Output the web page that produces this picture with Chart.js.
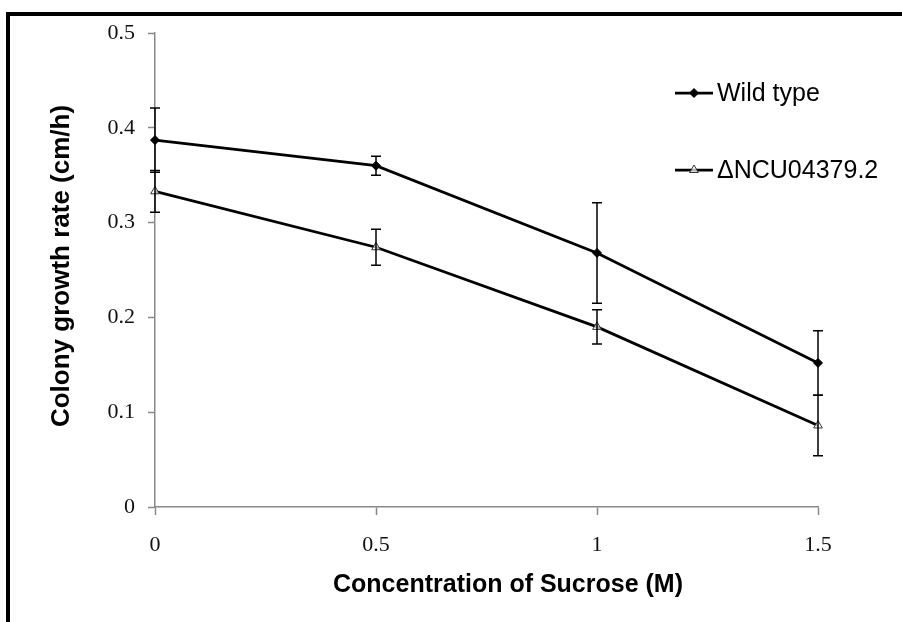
<!DOCTYPE html>
<html>
<head>
<meta charset="utf-8">
<script src="https://cdn.jsdelivr.net/npm/chart.js@4.4.1/dist/chart.umd.min.js"></script>
<style>
  body { margin: 0; background: #fff; }
  #wrap { position: relative; width: 902px; height: 622px; overflow: hidden; }
  #myChart { position: absolute; left: 0; top: 0; }
  #frame { position: absolute; left: 6px; top: 12px; width: 920px; height: 640px;
           border-left: 4px solid #000; border-top: 4px solid #000; pointer-events: none; }
</style>
</head>
<body>
<div id="wrap">
  <canvas id="myChart" width="902" height="622"></canvas>
  <div id="frame"></div>
</div>
<script>
const concentrations = ['0', '0.5', '1', '1.5']; // sucrose (M)
const wildType = [0.387, 0.360, 0.268, 0.152];
const wildTypeErr = [0.034, 0.010, 0.053, 0.034];
const mutant = [0.333, 0.274, 0.190, 0.086];
const mutantErr = [0.022, 0.019, 0.018, 0.032];
const yTicks = [0, 0.1, 0.2, 0.3, 0.4, 0.5];

const errors = [wildTypeErr, mutantErr];

// error bars, drawn through the library scales
const errorBars = {
    id: 'errorBars',
    afterDatasetsDraw(chart) {
        const ctx = chart.ctx;
        const x = chart.scales.x, y = chart.scales.y;
        ctx.save();
        ctx.strokeStyle = '#000';
        ctx.lineWidth = 1.5;
        chart.data.datasets.forEach((ds, i) => {
            ds.data.forEach((v, j) => {
                const px = x.getPixelForValue(j);
                const top = y.getPixelForValue(v + errors[i][j]);
                const bot = y.getPixelForValue(v - errors[i][j]);
                ctx.beginPath();
                ctx.moveTo(px, top); ctx.lineTo(px, bot);
                ctx.moveTo(px - 5, top); ctx.lineTo(px + 5, top);
                ctx.moveTo(px - 5, bot); ctx.lineTo(px + 5, bot);
                ctx.stroke();
            });
        });
        ctx.restore();
    }
};

// legend and axis titles
const decorations = {
    id: 'decorations',
    afterDraw(chart) {
        const ctx = chart.ctx;
        ctx.save();
        // legend
        const rows = [93, 170];
        chart.data.datasets.forEach((ds, i) => {
            const ly = rows[i];
            ctx.strokeStyle = '#000';
            ctx.lineWidth = 2.75;
            ctx.beginPath(); ctx.moveTo(675, ly); ctx.lineTo(713, ly); ctx.stroke();
            ctx.fillStyle = ds.pointBackgroundColor;
            ctx.strokeStyle = ds.pointBorderColor;
            ctx.lineWidth = ds.pointBorderWidth;
            Chart.helpers.drawPoint(ctx, {
                pointStyle: ds.pointStyle, radius: ds.pointRadius, borderWidth: ds.pointBorderWidth
            }, 694, ly);
            ctx.fillStyle = '#000';
            ctx.font = '25px "Liberation Sans", Arial, sans-serif';
            ctx.textAlign = 'left';
            ctx.textBaseline = 'middle';
            ctx.fillText(ds.label, 717, ly + 1);
        });
        // axis titles
        ctx.fillStyle = '#000';
        ctx.font = 'bold 25px "Liberation Sans", Arial, sans-serif';
        ctx.textAlign = 'center';
        ctx.textBaseline = 'middle';
        ctx.fillText('Concentration of Sucrose (M)', 508, 585);
        ctx.translate(62, 266);
        ctx.rotate(-Math.PI / 2);
        ctx.font = 'bold 26px "Liberation Sans", Arial, sans-serif';
        ctx.fillText('Colony growth rate (cm/h)', 0, 0);
        ctx.restore();
    }
};

const config = {
    type: 'line',
    data: {
        labels: concentrations,
        datasets: [
            {
                label: 'Wild type',
                data: wildType,
                borderColor: '#000',
                borderWidth: 2.75,
                pointStyle: 'rectRot',
                pointRadius: 4.5,
                pointBackgroundColor: '#000',
                pointBorderColor: '#000',
                pointBorderWidth: 1,
                tension: 0
            },
            {
                label: '\u0394NCU04379.2',
                data: mutant,
                borderColor: '#000',
                borderWidth: 2.75,
                pointStyle: 'triangle',
                pointRadius: 5,
                pointBackgroundColor: 'rgba(255,255,255,0.7)',
                pointBorderColor: '#333',
                pointBorderWidth: 1,
                tension: 0
            }
        ]
    },
    options: {
        responsive: false,
        animation: false,
        layout: { padding: { left: 0, top: 33, right: 84, bottom: 0 } },
        scales: {
            x: {
                type: 'category',
                offset: false,
                grid: { drawOnChartArea: false, tickLength: 8, color: '#888', tickWidth: 1.5 },
                border: { color: '#888', width: 1.5 },
                ticks: { color: '#111', padding: 17, maxRotation: 0,
                         font: { family: '"Liberation Serif", "Times New Roman", serif', size: 22 } },
                afterFit(scale) { scale.height = 115; }
            },
            y: {
                min: 0,
                max: 0.5,
                afterBuildTicks(scale) { scale.ticks = yTicks.map(v => ({ value: v })); },
                grid: { drawOnChartArea: false, tickLength: 7, color: '#888', tickWidth: 1.5 },
                border: { color: '#888', width: 1.5 },
                ticks: { color: '#111', padding: 13,
                         font: { family: '"Liberation Serif", "Times New Roman", serif', size: 22 },
                         callback: v => String(v) },
                afterFit(scale) { scale.width = 155; }
            }
        },
        plugins: {
            legend: { display: false },
            tooltip: { enabled: false }
        }
    },
    plugins: [errorBars, decorations]
};

let myChart = new Chart(document.getElementById('myChart'), config);
</script>
</body>
</html>
